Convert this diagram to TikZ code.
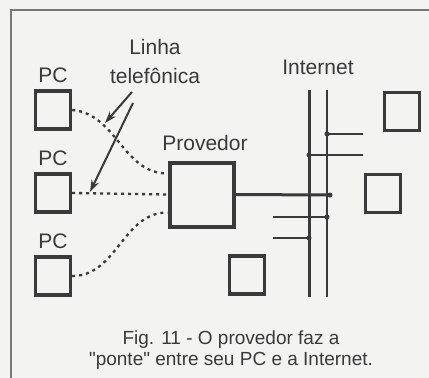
\documentclass[tikz,border=0pt]{standalone}
\usepackage{fontspec}
\setmainfont{Liberation Sans}
\usetikzlibrary{arrows.meta,positioning}
\definecolor{ink}{RGB}{58,58,58}
\definecolor{paper}{RGB}{243,243,241}
\definecolor{frameline}{RGB}{120,120,120}

\begin{document}
\begin{tikzpicture}[x=1pt,y=-1pt,
    pcbox/.style={draw=ink,line width=3.4pt,minimum width=35pt,minimum height=38pt,inner sep=0pt},
    provbox/.style={draw=ink,line width=4pt,minimum width=64pt,minimum height=64pt,inner sep=0pt},
    lbl/.style={text=ink,inner sep=0pt,font=\fontsize{21}{24}\selectfont},
    phone/.style={ink,line width=2.3pt,dash pattern=on 3pt off 4pt},
    bus/.style={ink,line width=2.2pt},
    pointer/.style={ink,line width=2pt,-{Stealth[length=12pt,width=8pt]}},
    joint/.style={circle,fill=ink,inner sep=0pt,minimum size=5pt}]
  \useasboundingbox[fill=paper] (0,0) rectangle (429,378);
  \draw[frameline,line width=1.3pt] (429,10) -- (11,10) -- (11,378);

  % computadores do lado do usuario
  \node[pcbox] (pc1) at (53,110) {};
  \node[pcbox] (pc2) at (53,193) {};
  \node[pcbox] (pc3) at (53,276) {};
  \foreach \i in {1,2,3}
    \node[lbl,above=6pt of pc\i] (pclbl\i) {PC};

  % provedor
  \node[provbox] (prov) at (201.5,194.5) {};
  \node[lbl] (provlbl) at (205,143) {Provedor};

  % linhas telefonicas
  \draw[phone] (pc1.east) to[out=-5,in=180] ([yshift=21pt]prov.west);
  \draw[phone] (pc2.east) -- (prov.west);
  \draw[phone] (pc3.east) to[out=0,in=180] ([yshift=-18pt]prov.west);

  \node[lbl] (linha) at (155,47) {Linha};
  \node[lbl] (tel) at (155,76) {telefônica};
  \coordinate (tip1) at (105,123);
  \coordinate (tip2) at (90,192);
  \draw[pointer] ([xshift=-23pt,yshift=-8pt]tel.south) -- (tip1);
  \draw[pointer] ([xshift=-22pt,yshift=-19pt]tel.south) -- (tip2);

  % internet
  \node[lbl] (net) at (318,67) {Internet};
  \coordinate (busAtop) at (309,90);
  \coordinate (busAbot) at (309,297);
  \coordinate (busBtop) at (327,90);
  \coordinate (busBbot) at (327,297);
  \draw[bus,line width=3pt] (busAtop) -- (busAbot);
  \draw[bus] (busBtop) -- (busBbot);

  \node[pcbox] (host1) at (402,111.5) {};
  \node[pcbox] (host2) at (383,193.5) {};
  \node[pcbox] (host3) at (247,275) {};

  \draw[bus,line width=3pt] (prov.east) -- (330,195) node[joint] {};
  \draw[bus] (363,134) -- (327,134) node[joint] {};
  \draw[bus] (363,155) -- (309,155) node[joint] {};
  \draw[bus] (273,217) -- (327,217) node[joint] {};
  \draw[bus] (273,238) -- (309,238) node[joint] {};

  % legenda
  \node[text=ink,align=center,font=\fontsize{19}{21}\selectfont] (caption) at (231,350)
    {Fig. 11 - O provedor faz a\\\textquotedbl ponte\textquotedbl{} entre seu PC e a Internet.};
\end{tikzpicture}
\end{document}
